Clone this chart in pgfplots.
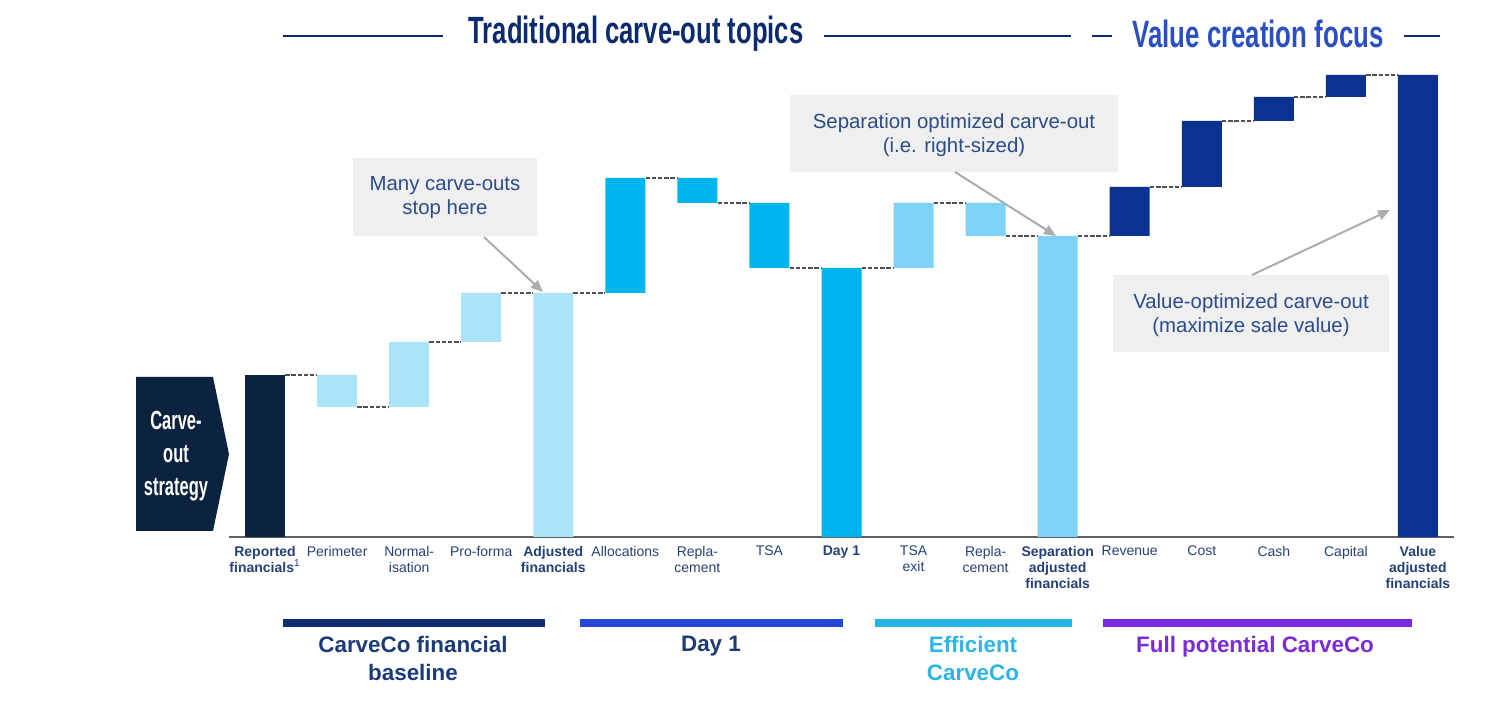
\documentclass[border=0pt]{standalone}
\usepackage{fontspec}
\setmainfont{Liberation Sans}
\usepackage{pgfplots}
\pgfplotsset{compat=1.18}
\usepackage{pgfplotstable}
\usetikzlibrary{arrows.meta}
\definecolor{navyrep}{HTML}{0C2340}
\definecolor{lightb}{HTML}{ABE4F8}
\definecolor{cyanb}{HTML}{00B4EE}
\definecolor{effb}{HTML}{7DD2F8}
\definecolor{valb}{HTML}{0A3391}
\definecolor{lblue}{HTML}{24407A}
\definecolor{hdr}{HTML}{0B2B6E}
\definecolor{hdr2}{HTML}{2A4FC4}
\definecolor{boxg}{HTML}{EFEFEF}
\definecolor{txtb}{HTML}{2B4B8C}
\definecolor{dashc}{HTML}{505050}
\definecolor{g1}{HTML}{0F2D6E}
\definecolor{g2}{HTML}{2447D6}
\definecolor{g3}{HTML}{23B5E5}
\definecolor{g4}{HTML}{7A2BE0}
\definecolor{g1t}{HTML}{1B3A78}
\definecolor{g3t}{HTML}{2CB5E6}
\definecolor{g4t}{HTML}{7A2BD8}

\pgfplotstableread{
x base rep light cyan eff val
0 0 162 0 0 0 0
1 130 0 32 0 0 0
2 130 0 65 0 0 0
3 195 0 49 0 0 0
4 0 0 244 0 0 0
5 244 0 0 115 0 0
6 334 0 0 25 0 0
7 269 0 0 65 0 0
8 0 0 0 269 0 0
9 269 0 0 0 65 0
10 301 0 0 0 33 0
11 0 0 0 0 301 0
12 301 0 0 0 0 49
13 350 0 0 0 0 66
14 416 0 0 0 0 24
15 440 0 0 0 0 22
16 0 0 0 0 0 462
}\wf

\pgfplotsset{wf/.style={
  at={(114.5pt,85pt)}, anchor=south west,
  scale only axis, width=612.5pt, height=268.5pt,
  xmin=-0.5, xmax=16.5, ymin=0, ymax=537,
  enlargelimits=false, clip=false}}

\begin{document}
\begin{tikzpicture}
\path[use as bounding box] (0,0) rectangle (750pt,353.5pt);

\begin{axis}[wf,
  ybar stacked, bar width=20pt,
  axis x line=bottom, axis y line=none,
  x axis line style={-, draw=gray!75!black, line width=0.9pt},
  xtick=data, ytick=\empty, major tick length=0pt,
  xticklabels={
    {\textbf{Reported}\\\textbf{financials}\textsuperscript{1}},
    {Perimeter},
    {Normal-\\isation},
    {Pro-forma},
    {\textbf{Adjusted}\\\textbf{financials}},
    {Allocations},
    {Repla-\\cement},
    {TSA},
    {\textbf{Day 1}},
    {TSA\\exit},
    {Repla-\\cement},
    {\textbf{Separation}\\\textbf{adjusted}\\\textbf{financials}},
    {Revenue},
    {Cost},
    {Cash},
    {Capital},
    {\textbf{Value}\\\textbf{adjusted}\\\textbf{financials}}},
  xticklabel style={font=\fontsize{7}{8}\selectfont, align=center, text=lblue, anchor=north, yshift=-1pt},
]
\addplot[draw=none, fill=none] table[x=x, y=base]{\wf};
\addplot[draw=none, fill=navyrep] table[x=x, y=rep]{\wf};
\addplot[draw=none, fill=lightb] table[x=x, y=light]{\wf};
\addplot[draw=none, fill=cyanb] table[x=x, y=cyan]{\wf};
\addplot[draw=none, fill=effb] table[x=x, y=eff]{\wf};
\addplot[draw=none, fill=valb] table[x=x, y=val]{\wf};
\end{axis}

\begin{axis}[wf, axis lines=none, ticks=none, unbounded coords=jump]
\addplot[dashc, line width=1.3pt, dash pattern=on 2.2pt off 0.9pt, mark=none] coordinates {
(0.28,162) (0.72,162) (0.72,nan)
(1.28,130) (1.72,130) (1.72,nan)
(2.28,195) (2.72,195) (2.72,nan)
(3.28,244) (3.72,244) (3.72,nan)
(4.28,244) (4.72,244) (4.72,nan)
(5.28,359) (5.72,359) (5.72,nan)
(6.28,334) (6.72,334) (6.72,nan)
(7.28,269) (7.72,269) (7.72,nan)
(8.28,269) (8.72,269) (8.72,nan)
(9.28,334) (9.72,334) (9.72,nan)
(10.28,301) (10.72,301) (10.72,nan)
(11.28,301) (11.72,301) (11.72,nan)
(12.28,350) (12.72,350) (12.72,nan)
(13.28,416) (13.72,416) (13.72,nan)
(14.28,440) (14.72,440) (14.72,nan)
(15.28,462) (15.72,462)
};
\end{axis}

\begin{scope}[x=0.5pt, y=-0.5pt, yshift=353.5pt]
% headers
\draw[hdr, line width=1.4pt] (283,36) -- (443,36);
\draw[hdr, line width=1.4pt] (824,36) -- (1071,36);
\draw[hdr, line width=1.4pt] (1092,36) -- (1112,36);
\draw[hdr, line width=1.4pt] (1404,36) -- (1440,36);
\node[text=hdr, font=\bfseries\fontsize{19}{20}\selectfont, inner sep=0pt] at (636,34) {\resizebox{167.5pt}{\height}{Traditional carve-out topics}};
\node[text=hdr2, font=\bfseries\fontsize{19}{20}\selectfont, inner sep=0pt] at (1258,34) {\resizebox{125.5pt}{\height}{Value creation focus}};

% carve-out strategy arrow box
\fill[navyrep] (136,377) -- (213,377) -- (229,454) -- (213,531) -- (136,531) -- cycle;
\node[text=white, inner sep=0pt] at (176,456) {\scalebox{0.66}[1.05]{\fontsize{12.5}{15.5}\selectfont\bfseries\begin{tabular}{@{}c@{}}Carve-\\out\\strategy\end{tabular}}};

% callouts
\fill[boxg] (353,158) rectangle (537,236);
\node[text=txtb, align=center, font=\fontsize{10.2}{12}\selectfont] at (445,198) {Many carve-outs\\stop here};
\draw[gray!65, line width=1pt, -{Triangle[length=6pt, width=5pt]}] (484,237) -- (543,292);

\fill[boxg] (790,95) rectangle (1118,172);
\node[text=txtb, align=center, font=\fontsize{10.2}{12}\selectfont] at (954,135) {Separation optimized carve-out\\(i.e. right-sized)};
\draw[gray!65, line width=1pt, -{Triangle[length=6pt, width=5pt]}] (955,172) -- (1056,236);

\fill[boxg] (1113,275) rectangle (1389,352);
\node[text=txtb, align=center, font=\fontsize{10.2}{12}\selectfont] at (1251,315) {Value-optimized carve-out\\(maximize sale value)};
\draw[gray!65, line width=1pt, -{Triangle[length=6pt, width=5pt]}] (1252,275) -- (1390,210);

% bottom groups
\draw[g1, line width=4pt] (283,623) -- (545,623);
\draw[g2, line width=4pt] (580,623) -- (843,623);
\draw[g3, line width=4pt] (875,623) -- (1072,623);
\draw[g4, line width=4pt] (1103,623) -- (1412,623);
\node[text=g1t, align=center, font=\bfseries\fontsize{11.2}{14}\selectfont, anchor=north] at (413,629) {CarveCo financial\\baseline};
\node[text=g1t, align=center, font=\bfseries\fontsize{11.2}{14}\selectfont, anchor=north] at (711,629) {Day 1};
\node[text=g3t, align=center, font=\bfseries\fontsize{11.2}{14}\selectfont, anchor=north] at (973,629) {Efficient\\CarveCo};
\node[text=g4t, align=center, font=\bfseries\fontsize{11.2}{14}\selectfont, anchor=north] at (1255,629) {Full potential CarveCo};
\end{scope}
\end{tikzpicture}
\end{document}
